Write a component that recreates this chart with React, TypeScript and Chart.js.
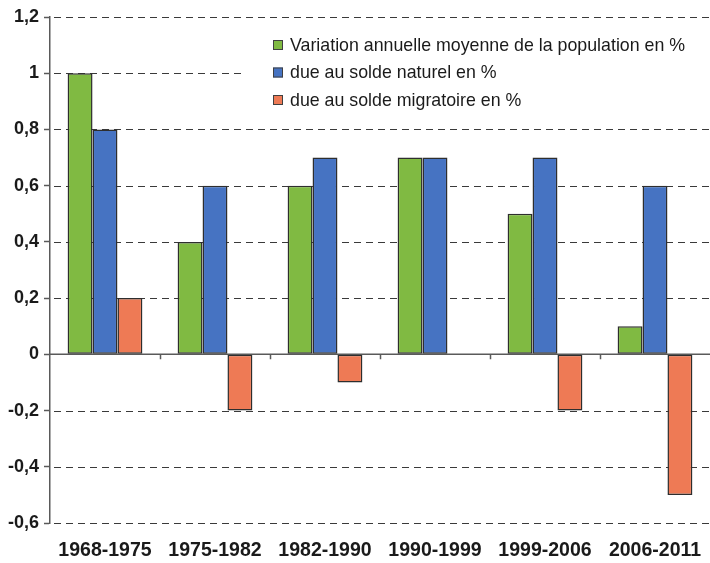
import React, { useEffect, useRef } from "react";
import { Chart, registerables } from "chart.js";

Chart.register(...registerables);

const categories = ["1968-1975", "1975-1982", "1982-1990", "1990-1999", "1999-2006", "2006-2011"];
const seriesNames = [
  "Variation annuelle moyenne de la population en %",
  "due au solde naturel en %",
  "due au solde migratoire en %",
];
const variationTotale = [1.0, 0.4, 0.6, 0.7, 0.5, 0.1];
const soldeNaturel = [0.8, 0.6, 0.7, 0.7, 0.7, 0.6];
const soldeMigratoire = [0.2, -0.2, -0.1, 0, -0.2, -0.5];
const yMin = -0.6;
const yMax = 1.2;
const yStep = 0.2;

const colors = ["#80BA42", "#4673C2", "#EE7A55"];

const gridPlugin = {
  id: "dashedGrid",
  beforeDatasetsDraw(chart: any) {
    const { ctx, chartArea, scales } = chart;
    const ys = scales.y;
    ctx.save();
    ctx.strokeStyle = "#3a3a3a";
    ctx.lineWidth = 1;
    ctx.setLineDash([7, 5]);
    ys.ticks.forEach((t: any) => {
      const y = Math.round(ys.getPixelForValue(t.value)) + 0.5;
      ctx.beginPath();
      ctx.moveTo(chartArea.left + 4, y);
      ctx.lineTo(chartArea.right, y);
      ctx.stroke();
    });
    ctx.setLineDash([]);
    const y0 = ys.getPixelForValue(0);
    ctx.strokeStyle = "#5a5a5a";
    ctx.lineWidth = 1.5;
    ctx.beginPath();
    ctx.moveTo(chartArea.left, y0);
    ctx.lineTo(chartArea.right, y0);
    const n = chart.data.labels.length;
    for (let i = 0; i < n - 1; i++) {
      const x = Math.round((scales.x.getPixelForValue(i) + scales.x.getPixelForValue(i + 1)) / 2) + 0.5;
      ctx.moveTo(x, y0);
      ctx.lineTo(x, y0 + 5);
    }
    ctx.stroke();
    ctx.restore();
  },
};

const legendPlugin = {
  id: "insideLegend",
  afterDraw(chart: any) {
    const { ctx } = chart;
    ctx.save();
    ctx.fillStyle = "#ffffff";
    ctx.fillRect(243, 26, 467, 92);
    ctx.font = "17.8px Arial, 'Liberation Sans', sans-serif";
    ctx.textBaseline = "middle";
    chart.data.datasets.forEach((ds: any, i: number) => {
      const y = 45 + i * 27.5;
      ctx.fillStyle = ds.backgroundColor;
      ctx.fillRect(273, y - 5, 10, 10);
      ctx.strokeStyle = "#404040";
      ctx.lineWidth = 1;
      ctx.strokeRect(273.5, y - 4.5, 9, 9);
      ctx.fillStyle = "#1a1a1a";
      ctx.fillText(ds.label, 290, y + 1);
    });
    ctx.restore();
  },
};

export default function App() {
  const ref = useRef<HTMLCanvasElement | null>(null);

  useEffect(() => {
    document.body.style.margin = "0";
    const values = [variationTotale, soldeNaturel, soldeMigratoire];
    const chart = new Chart(ref.current as HTMLCanvasElement, {
      type: "bar",
      data: {
        labels: categories,
        datasets: seriesNames.map((name, i) => ({
          label: name,
          data: values[i],
          backgroundColor: colors[i],
          borderColor: "#2e2e2e",
          borderWidth: 1.5,
          borderSkipped: false,
          inflateAmount: 0,
          categoryPercentage: 0.68,
          barPercentage: 1.0,
        })),
      },
      options: {
        animation: false,
        responsive: false,
        maintainAspectRatio: false,
        layout: { padding: { top: 17, right: 0, bottom: 0, left: 0 } },
        plugins: {
          legend: { display: false },
          tooltip: { enabled: false },
        },
        scales: {
          x: {
            grid: { display: false, drawTicks: false },
            border: { display: false },
            ticks: {
              padding: 16,
              color: "#1a1a1a",
              font: { family: "Arial, 'Liberation Sans', sans-serif", size: 19.5, weight: "bold" },
              maxRotation: 0,
              autoSkip: false,
            },
            afterFit(scale: any) {
              scale.height = 40;
              scale.paddingLeft = 0;
              scale.paddingRight = 0;
            },
          },
          y: {
            min: yMin,
            max: yMax,
            ticks: {
              stepSize: yStep,
              padding: 5,
              color: "#1a1a1a",
              font: { family: "Arial, 'Liberation Sans', sans-serif", size: 18, weight: "bold" },
              callback: (v: any) => String(Math.round(Number(v) * 10) / 10).replace(".", ","),
            },
            grid: {
              drawOnChartArea: false,
              drawTicks: true,
              tickLength: 6,
              tickColor: "#5a5a5a",
              tickWidth: 1.5,
            },
            border: { display: true, color: "#5a5a5a", width: 1.5 },
            afterFit(scale: any) {
              scale.width = 50;
            },
          },
        },
      },
      plugins: [gridPlugin, legendPlugin],
    });
    return () => chart.destroy();
  }, []);

  return (
    <div style={{ width: 710, height: 563, background: "#fff" }}>
      <canvas ref={ref} width={710} height={563} />
    </div>
  );
}
